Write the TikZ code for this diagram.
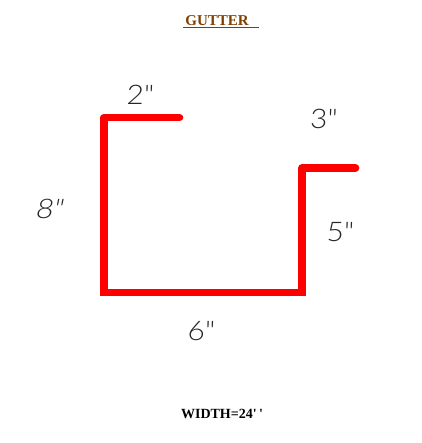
\documentclass[tikz,border=0pt]{standalone}
\usepackage{fontspec}
\setmainfont{Liberation Serif}
\newfontfamily\dimfont[FakeSlant=0.04,FakeStretch=1.1]{Lato Light}
\newfontfamily\dimslant[FakeSlant=0.2,FakeStretch=1.1]{Lato Light}
\definecolor{gutterbrown}{HTML}{7F3F00}
\definecolor{gutterred}{HTML}{FF0000}
\tikzset{
  dimlabel/.style={font=\dimfont\fontsize{27}{27}\selectfont,text=black!85,inner sep=0pt,anchor=center},
  profile/.style={draw=gutterred,line width=7.6pt,line cap=round,line join=round},
  profilebase/.style={draw=gutterred,line width=7.6pt,line join=miter},
}
\begin{document}
\begin{tikzpicture}[x=1pt,y=-1pt]
\useasboundingbox (0,0) rectangle (421,443);
\fill[white] (0,0) rectangle (421,443);
\coordinate (a) at (179.5,117.5);
\coordinate (b) at (104,117.5);
\coordinate (b2) at (104,130);
\coordinate (c) at (104,292.5);
\coordinate (d) at (302,292.5);
\coordinate (e) at (302,168);
\coordinate (e2) at (302,180);
\coordinate (f) at (355.5,168);
\draw[profile] (a) -- (b) -- (b2);
\draw[profilebase] (b2) -- (c) -- (d) -- (e2);
\draw[profile] (e2) -- (e) -- (f);
\node[font=\bfseries\fontsize{15}{15}\selectfont,text=gutterbrown,inner sep=0pt] (title) at (217,20.5) {GUTTER};
\draw[gutterbrown,line width=1pt] (183,27.5) -- (259,27.5);
\node[dimlabel] (n2) at (140,95) {2"};
\node[dimlabel] (n3) at (323.5,119) {3"};
\node[dimlabel,font=\dimslant\fontsize{27}{27}\selectfont] (n8) at (48.5,209) {8"};
\node[dimlabel] (n5) at (340,232) {5"};
\node[dimlabel] (n6) at (201,331) {6"};
\node[font=\bfseries\fontsize{14}{14}\selectfont,inner sep=0pt] (w) at (222,413.5) {WIDTH=24\textquotesingle\,\textquotesingle};
\end{tikzpicture}
\end{document}
